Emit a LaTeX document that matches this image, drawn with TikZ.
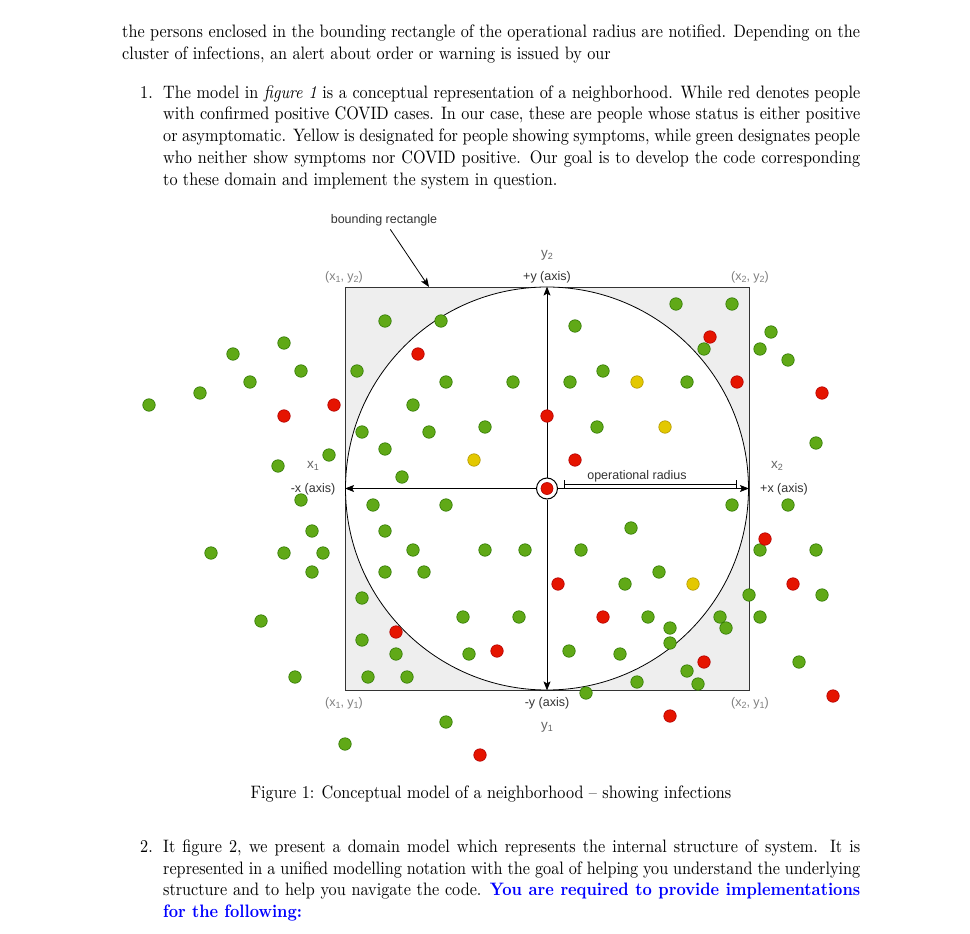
\documentclass[tikz,border=0pt]{standalone}
\usepackage{fontspec}
\usepackage{graphicx}
\usetikzlibrary{arrows.meta}
\setmainfont{lmroman10-regular.otf}[BoldFont=lmroman10-bold.otf,ItalicFont=lmroman10-italic.otf,BoldItalicFont=lmroman10-bolditalic.otf]
\newfontfamily\arialf{Liberation Sans}
\definecolor{gfill}{HTML}{60A917}\definecolor{gdraw}{HTML}{2D7600}
\definecolor{rfill}{HTML}{E51400}\definecolor{rdraw}{HTML}{B20000}
\definecolor{yfill}{HTML}{E3C800}\definecolor{ydraw}{HTML}{B09500}
\definecolor{rectfill}{HTML}{EEEEEE}
\definecolor{lgray}{HTML}{808080}\definecolor{mgray}{HTML}{666666}\definecolor{dgray}{HTML}{333333}
\newcommand\sxn{90}
\newcommand\jl[2]{\scalebox{0.\sxn}[1]{\makebox[\dimexpr #1pt*100/\sxn\relax][s]{#2}}}
\newcommand\nl[1]{\scalebox{0.\sxn}[1]{#1}}
\newcommand\sbs[1]{\raisebox{-0.35ex}{\fontsize{9}{9}\selectfont #1}}
\begin{document}
\begin{tikzpicture}[x=1pt,y=-1pt,
  body/.style={anchor=base west,inner sep=0,font=\fontsize{18}{21.7}\selectfont},
  lab/.style={inner sep=0,font=\arialf\fontsize{12.5}{14}\selectfont,text=dgray},
  corner/.style={lab,text=lgray},
  coord/.style={lab,text=mgray,font=\arialf\fontsize{13.5}{15}\selectfont},
  dot/.style={circle,inner sep=0,minimum size=12.5pt,line width=0.6pt},
  gdot/.style={dot,fill=gfill,draw=gdraw},
  rdot/.style={dot,fill=rfill,draw=rdraw},
  ydot/.style={dot,fill=yfill,draw=ydraw},
  axarr/.style={line width=0.8pt,-{Stealth[length=9pt,width=7pt,inset=2pt]}},
]
\useasboundingbox[fill=white] (0,0) rectangle (970,934);
% ---- body text ----
\node[body] (t1) at (122,38) {\jl{738}{the persons enclosed in the bounding rectangle of the operational radius are notified. Depending on the}};
\node[body] (t2) at (122,59.5) {\nl{cluster of infections, an alert about order or warning is issued by our}};
\node[body] (n1) at (140,98.5) {\nl{1.}};
\node[body] (a1) at (163,98.5) {\jl{697}{The model in \textit{figure 1} is a conceptual representation of a neighborhood. While red denotes people}};
\node[body] (a2) at (163,120) {\jl{697}{with confirmed positive COVID cases. In our case, these are people whose status is either positive}};
\node[body] (a3) at (163,141.5) {\jl{697}{or asymptomatic. Yellow is designated for people showing symptoms, while green designates people}};
\node[body] (a4) at (163,163) {\jl{697}{who neither show symptoms nor COVID positive. Our goal is to develop the code corresponding}};
\node[body] (a5) at (163,185) {\nl{to these domain and implement the system in question.}};
\node[body,anchor=base] (cap) at (491,798) {\nl{Figure 1: Conceptual model of a neighborhood -- showing infections}};
\node[body] (n2) at (140,852) {\nl{2.}};
\node[body] (b1) at (163,852) {\jl{697}{It figure 2, we present a domain model which represents the internal structure of system. It is}};
\node[body] (b2) at (163,874) {\jl{697}{represented in a unified modelling notation with the goal of helping you understand the underlying}};
\node[body] (b3) at (163,895.5) {\jl{697}{structure and to help you navigate the code. {\bfseries\color{blue}You are required to provide implementations}}};
\node[body] (b4) at (163,917) {\nl{\bfseries\color{blue}for the following:}};
% ---- figure ----
\node[draw=dgray,fill=rectfill,line width=0.8pt,minimum width=404pt,minimum height=403pt,inner sep=0] (rect) at (547,488.5) {};
\node[draw=black,fill=white,circle,line width=0.8pt,minimum size=403pt,inner sep=0] (circ) at (547,488.5) {};
\node[circle,draw=black,fill=white,line width=1pt,minimum size=21pt,inner sep=0] (ctr) at (547,488.5) {};
\draw[axarr] (ctr) -- (circ.north);
\draw[axarr] (ctr) -- (circ.south);
\draw[axarr] (ctr) -- (circ.west);
\draw[axarr] (ctr) -- (circ.east);
\node[rdot,minimum size=12pt] (ctrdot) at (ctr) {};
% operational radius
\coordinate (dl) at (564.5,484);
\coordinate (dr) at (736,484);
\draw[line width=0.8pt] (dl) -- (dr);
\draw[line width=0.8pt] ([yshift=-4pt]dl) -- ([yshift=4pt]dl);
\draw[line width=0.8pt] ([yshift=-4pt]dr) -- ([yshift=4pt]dr);
\node[lab] (oprad) at (637,476) {operational radius};
% labels
\node[lab] (brl) at (384,220) {bounding rectangle};
\coordinate (brtip) at (429,287);
\draw[line width=0.8pt,-{Stealth[length=9pt,width=7pt,inset=2pt]},shorten <=4pt] (brl) -- (brtip);
\node[coord] (ly2) at (547,255) {y\sbs{2}};
\node[lab] (pya) at (547,277) {+y (axis)};
\node[corner] (c12) at (344,277) {(x\sbs{1}, y\sbs{2})};
\node[corner] (c22) at (750,277) {(x\sbs{2}, y\sbs{2})};
\node[coord] (lx1) at (313,466) {x\sbs{1}};
\node[lab] (nxa) at (313,489) {-x (axis)};
\node[coord] (lx2) at (777,466) {x\sbs{2}};
\node[lab] (pxa) at (784,489) {+x (axis)};
\node[corner] (c11) at (344,703) {(x\sbs{1}, y\sbs{1})};
\node[lab] (nya) at (547,703) {-y (axis)};
\node[coord] (ly1) at (547,727) {y\sbs{1}};
\node[corner] (c21) at (750,703) {(x\sbs{2}, y\sbs{1})};
% ---- dots ----
\foreach \p [count=\i] in {(385,321),(441,321),(357,371),(446,382),(513,382),(413,405),(362,432),(429,432),(485,427),(385,449),(402,477),(284,343),(233,354),(301,371),(250,382),(200,393),(149,405),(329,455),(278,466),
(676,304),(732,304),(575,326),(704,349),(771,332),(760,349),(788,360),(603,371),(570,382),(687,382),(597,427),(816,443),
(301,500),(373,505),(446,505),(312,531),(385,531),(211,553),(284,553),(323,553),(413,550),(485,550),(525,550),(312,572),(385,572),(424,572),(362,598),(261,621),(463,617),(519,617),(362,640),(396,654),(469,654),(295,677),(368,677),(407,677),(446,722),(345,744),
(732,505),(788,505),(631,528),(581,550),(760,550),(816,550),(659,572),(625,584),(749,595),(822,595),(648,617),(720,617),(760,617),(670,628),(726,628),(670,643),(569,651),(620,654),(799,662),(687,671),(637,682),(698,684),(586,693)}
  \node[gdot] (g\i) at \p {};
\foreach \p [count=\i] in {(418,354),(334,405),(284,416),(547,416),(710,337),(737,382),(822,393),(575,460),(396,632),(497,651),(480,755),(765,539),(558,584),(793,584),(603,617),(704,662),(670,716),(833,696)}
  \node[rdot] (r\i) at \p {};
\foreach \p [count=\i] in {(474,460),(637,382),(665,427),(693,584)}
  \node[ydot] (y\i) at \p {};
\end{tikzpicture}
\end{document}
